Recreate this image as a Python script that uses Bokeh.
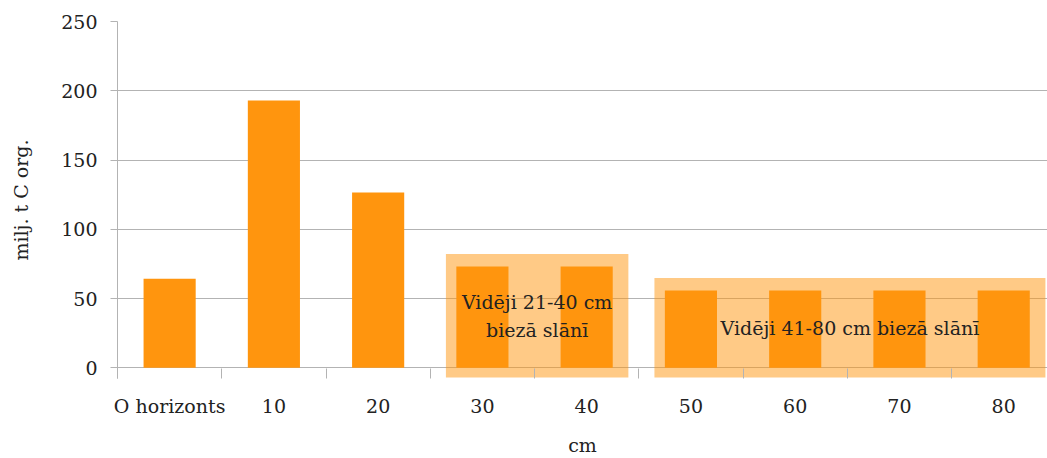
from bokeh.plotting import figure
from bokeh.models import Range1d, FixedTicker, CustomJSTickFormatter, BoxAnnotation
from bokeh.core.properties import value
from bokeh.embed import file_html
from bokeh.resources import INLINE

# ---- data ----
categories = ["O horizonts", "10", "20", "30", "40", "50", "60", "70", "80"]
carbon = [64.3, 193.0, 126.6, 73.1, 73.1, 55.8, 55.8, 55.8, 55.8]
y_ticks = [0, 50, 100, 150, 200, 250]
group_labels = ["Vidēji 21-40 cm\nbiezā slānī", "Vidēji 41-80 cm biezā slānī"]
group_members = [[3, 4], [5, 6, 7, 8]]
x_title = "cm"
y_title = "milj. t C org."

FONT = "DejaVu Serif"
FS = "19px"
TXT = "#222222"
GRID = "#B3B3B3"
BAR = "#FF950E"

centers = [i + 0.5 for i in range(len(categories))]
bounds = list(range(len(categories) + 1))

p = figure(width=1047, height=458,
           x_range=Range1d(0, 8.92), y_range=Range1d(-7.7, 250),
           output_backend="svg", toolbar_location=None,
           min_border_left=117, min_border_right=0,
           min_border_top=21, min_border_bottom=80)
p.outline_line_color = None
p.xgrid.visible = False
p.ygrid.grid_line_color = GRID

# group highlight boxes
for members in group_members:
    top = max(carbon[i] for i in members) + 9
    box = BoxAnnotation(left=members[0] + 0.15, right=members[-1] + 0.9,
                        bottom=-7, top=top,
                        fill_color=BAR, fill_alpha=0.5, line_color=None,
                        level="underlay")
    p.add_layout(box)

p.vbar(x=centers, top=carbon, width=0.5, color=BAR, line_color=None)

tx, ty = [], []
for members in group_members:
    top = max(carbon[i] for i in members) + 9
    tx.append((members[0] + 0.15 + members[-1] + 0.9) / 2)
    ty.append((top - 7) / 2)
p.text(x=tx, y=ty, text=group_labels, text_align="center", text_baseline="middle",
       text_font=value(FONT), text_font_size=FS, text_color=TXT,
       text_line_height=1.3)

# x axis
xa = p.xaxis[0]
xa.ticker = FixedTicker(ticks=centers, minor_ticks=bounds)
xa.formatter = CustomJSTickFormatter(args=dict(labels=categories),
                                     code="return labels[Math.floor(tick)];")
xa.axis_line_color = None
xa.major_tick_line_color = None
xa.minor_tick_line_color = GRID
xa.minor_tick_in = 10
xa.minor_tick_out = 0
xa.major_label_standoff = 10
xa.major_label_text_font = FONT
xa.major_label_text_font_size = FS
xa.major_label_text_color = TXT
xa.axis_label = x_title
xa.axis_label_standoff = 14
xa.axis_label_text_font = FONT
xa.axis_label_text_font_size = FS
xa.axis_label_text_font_style = "normal"
xa.axis_label_text_color = TXT

# y axis
ya = p.yaxis[0]
ya.ticker = FixedTicker(ticks=y_ticks)
ya.axis_line_color = GRID
ya.major_tick_line_color = GRID
ya.major_tick_in = 0
ya.major_tick_out = 7
ya.minor_tick_line_color = None
ya.major_label_standoff = 13
ya.major_label_text_font = FONT
ya.major_label_text_font_size = FS
ya.major_label_text_color = TXT
ya.axis_label = y_title
ya.axis_label_standoff = 26
ya.axis_label_text_font = FONT
ya.axis_label_text_font_size = FS
ya.axis_label_text_font_style = "normal"
ya.axis_label_text_color = TXT

open("out.html", "w").write(file_html(p, INLINE))
